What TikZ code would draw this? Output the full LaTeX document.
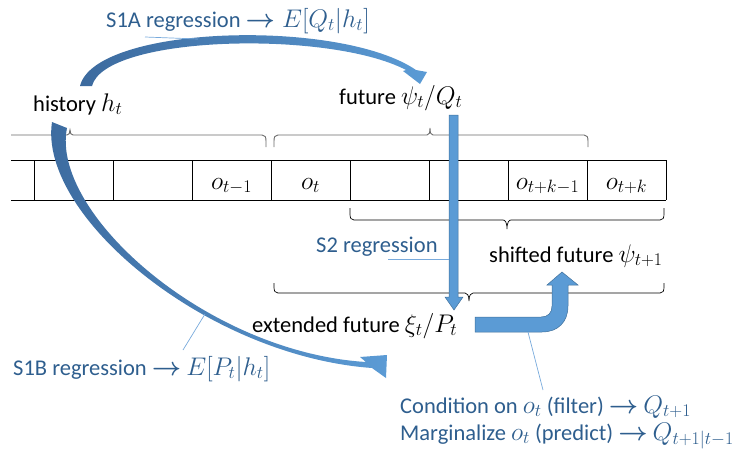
\RequirePackage{fix-cm}
\documentclass[tikz,border=0pt]{standalone}
\usepackage{amsmath}
\usepackage{fontspec}
\setmainfont{Carlito}
\definecolor{txtblue}{RGB}{46,94,142}
\definecolor{arrlight}{RGB}{91,155,213}
\definecolor{arrdark}{RGB}{60,106,158}
\definecolor{arredge}{RGB}{65,113,156}
\definecolor{leader}{RGB}{120,170,220}
\definecolor{bracegray}{RGB}{105,105,105}
\newcommand\mth[1]{{\fontsize{25.5}{30}\selectfont$#1$}}
\tikzset{
  lbl/.style={anchor=base west, inner sep=0pt, font=\fontsize{22.5}{27}\selectfont},
  bluelbl/.style={lbl, text=txtblue},
  celllbl/.style={anchor=base, inner sep=0pt, font=\fontsize{22.5}{27}\selectfont},
  cellline/.style={draw=black, line width=0.8pt},
  topbrace/.style={draw=bracegray, line width=0.9pt},
  botbrace/.style={draw=black, line width=0.7pt},
  leaderline/.style={draw=leader, line width=0.7pt},
  flatarrow/.style={fill=arrlight, draw=arredge, line width=0.5pt},
}
\begin{document}
\begin{tikzpicture}[x=1pt,y=-1pt]
\useasboundingbox (0,0) rectangle (745,450);
% observation cells
\draw[cellline] (11,160) -- (666,160);
\draw[cellline] (11,200) -- (666,200);
\foreach \xx in {34,113,192,271,350,429,508,587,666}
  \draw[cellline] (\xx,160) -- (\xx,200);
\node[celllbl] (om1) at (231.5,189) {\mth{o_{t-1}}};
\node[celllbl] (o0) at (310.5,189) {\mth{o_{t}}};
\node[celllbl] (okm1) at (547.5,189) {\mth{o_{t+k-1}}};
\node[celllbl] (ok) at (626.5,189) {\mth{o_{t+k}}};
% braces
\draw[topbrace] (11,135) -- (67,135) .. controls (69,135) and (70,133) .. (70,130)
  .. controls (70,133) and (71,135) .. (73,135) -- (262,135)
  .. controls (265,135) and (266,137) .. (266,141) -- (266,147);
\draw[topbrace] (274,147) -- (274,141) .. controls (274,137) and (275,135) .. (278,135)
  -- (427,135) .. controls (429,135) and (430,133) .. (430,128)
  .. controls (430,133) and (431,135) .. (433,135) -- (584,135)
  .. controls (587,135) and (588,137) .. (588,141) -- (588,147);
\draw[botbrace] (350,208) -- (350,214) .. controls (350,218) and (351,220) .. (354,220)
  -- (503,220) .. controls (505,220) and (507,222) .. (507,229)
  .. controls (507,222) and (509,220) .. (511,220) -- (660,220)
  .. controls (663,220) and (664,218) .. (664,214) -- (664,208);
\draw[botbrace] (274,283) -- (274,287) .. controls (274,291) and (275,293) .. (278,293)
  -- (465,293) .. controls (467,293) and (469,295) .. (469,301)
  .. controls (469,295) and (471,293) .. (473,293) -- (660,293)
  .. controls (663,293) and (664,291) .. (664,287) -- (664,283);
% text labels
\node[lbl] (hist) at (33,111) {history \mth{h_t}};
\node[lbl] (fut) at (339,104) {future \mth{\psi_t/Q_t}};
\node[bluelbl] (s1a) at (106,27) {S1A regression \mth{\boldsymbol{\rightarrow}E[Q_t|h_t]}};
\node[bluelbl] (s2) at (316,252) {S2 regression};
\node[lbl] (shift) at (489,262) {shifted future \mth{\psi_{t+1}}};
\node[lbl] (ext) at (252,332) {extended future \mth{\xi_t/P_t}};
\node[bluelbl] (s1b) at (13,375) {S1B regression \mth{\boldsymbol{\rightarrow}} \mth{E[P_t|h_t]}};
\node[bluelbl] (cond) at (400,413) {Condition on \mth{o_t} (filter) \mth{\boldsymbol{\rightarrow}} \mth{Q_{t+1}}};
\node[bluelbl] (marg) at (400,440) {Marginalize \mth{o_t} (predict) \mth{\boldsymbol{\rightarrow}} \mth{Q_{t+1|t-1}}};
% S1A curved arrow
\shade[left color=arrdark, right color=arrlight]
  (80,86) .. controls (95,25) and (340,18) .. (416,70) -- (427,72) -- (420,84)
  -- (403,71) -- (406,70) .. controls (330,30) and (105,35) .. (92,86) -- cycle;
% S1B curved arrow
\shade[left color=arrdark, right color=arrlight]
  (52,122) .. controls (38,216) and (207,356) .. (372,368) -- (386,378) -- (387,355)
  -- (360,357) -- (366,362) .. controls (206,352) and (50,212) .. (67,128) -- cycle;
% S2 arrow
\path[flatarrow] (449,115) -- (458,115) -- (458,297) -- (463,297) -- (454,310)
  -- (445,297) -- (449,297) -- cycle;
% bent arrow
\path[flatarrow] (475,317) -- (541,317) .. controls (548,317) and (552,313) .. (552,306)
  -- (552,285) -- (547,285) -- (562,272) -- (578,285) -- (568,285) -- (568,306)
  .. controls (568,322) and (558,332) .. (542,332) -- (475,332) -- cycle;
% leader lines
\coordinate (l1a) at (145,37); \coordinate (l1b) at (198,39);
\coordinate (l2a) at (388,259); \coordinate (l2b) at (449,259);
\coordinate (l3a) at (183,350); \coordinate (l3b) at (205,314);
\coordinate (l4a) at (543,390); \coordinate (l4b) at (528,332);
\draw[leaderline] (l1a) -- (l1b);
\draw[leaderline] (l2a) -- (l2b);
\draw[leaderline] (l3a) -- (l3b);
\draw[leaderline] (l4a) -- (l4b);
\end{tikzpicture}
\end{document}
